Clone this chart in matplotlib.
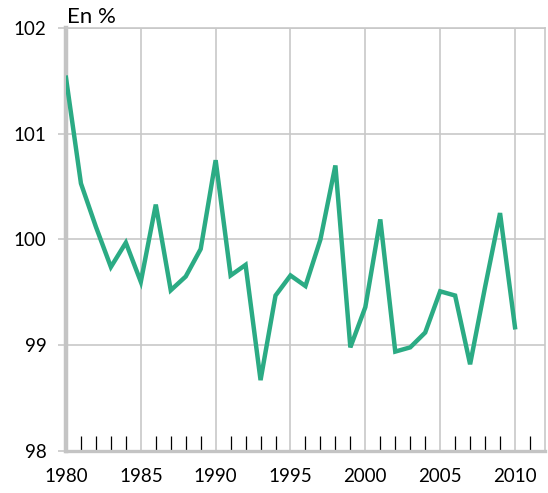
import numpy as np
import matplotlib
matplotlib.use("Agg")
import matplotlib.pyplot as plt

# data
years = list(range(1980, 2011))
values = [101.53, 100.53, 100.12, 99.74, 99.97, 99.60, 100.33, 99.52, 99.65, 99.91,
          100.75, 99.66, 99.76, 98.67, 99.47, 99.66, 99.56, 100.00, 100.70, 98.98,
          99.36, 100.19, 98.94, 98.98, 99.12, 99.51, 99.47, 98.82, 99.55, 100.25,
          99.17]
x_major = [1980, 1985, 1990, 1995, 2000, 2005, 2010]
x_minor = [y for y in range(1981, 2012) if y % 5 != 0]
y_ticks = [98, 99, 100, 101, 102]

plt.rcParams['font.family'] = ['Lato', 'DejaVu Sans']

fig = plt.figure(figsize=(5.48, 4.93), dpi=100)
ax = fig.add_axes([0.1204, 0.0852, 0.874, 0.858])

ax.plot(years, values, color="#2bab84", lw=3.2, solid_joinstyle="miter", zorder=3)

ax.set_xlim(1980, 2012)
ax.set_ylim(98, 102)
ax.set_xticks(x_major)
ax.set_xticks(x_minor, minor=True)
ax.set_yticks(y_ticks)
ax.set_xticklabels([str(v) for v in x_major], fontsize=13.5)
ax.set_yticklabels([str(v) for v in y_ticks], fontsize=13.5)

grid_c = "#c8c8c8"
ax.grid(True, which="major", color=grid_c, lw=1.2, zorder=0)
ax.tick_params(axis="x", which="major", length=0, pad=12)
ax.tick_params(axis="x", which="minor", direction="in", length=11, width=0.9, color="black")
ax.tick_params(axis="y", which="major", length=6, width=1.2, color=grid_c, pad=8)

for side in ["top", "right"]:
    ax.spines[side].set_color(grid_c)
    ax.spines[side].set_linewidth(1.2)
ax.spines["left"].set_color("#c4c4c4")
ax.spines["left"].set_linewidth(3.2)
ax.spines["bottom"].set_color("#c4c4c4")
ax.spines["bottom"].set_linewidth(2.4)

ax.text(0.002, 1.002, "En %", transform=ax.transAxes, fontsize=16,
        ha="left", va="bottom")

fig.savefig("out.png", dpi=100)
